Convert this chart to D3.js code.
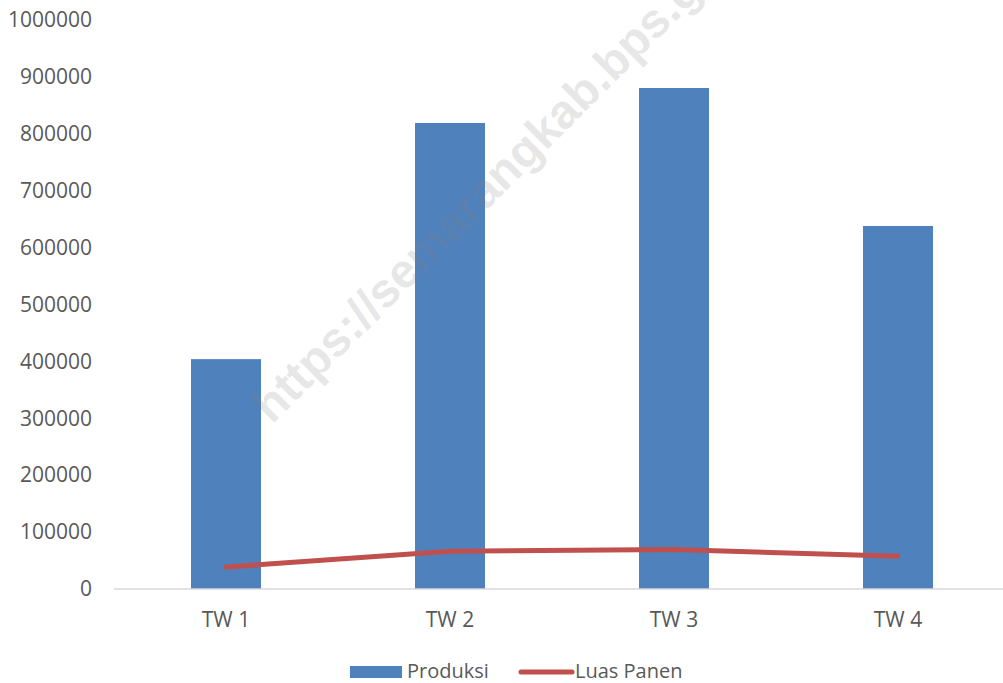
<!DOCTYPE html>
<html><head><meta charset="utf-8">
<script src="https://cdn.jsdelivr.net/npm/d3@7"></script>
<style>body{margin:0;background:#fff}svg{display:block}</style>
</head><body>
<script>
const categories = ["TW 1", "TW 2", "TW 3", "TW 4"];
const produksi = [404000, 819000, 880500, 638000];
const luasPanen = [38500, 66500, 69500, 57500];
const yTicks = [0,100000,200000,300000,400000,500000,600000,700000,800000,900000,1000000];

const W = 1003, H = 683;
const svg = d3.select("body").append("svg").attr("width", W).attr("height", H);
const font = "'Open Sans', sans-serif";

const x = d3.scaleBand().domain(categories).range([114, 1010]).paddingInner(0.6875).paddingOuter(0.34375);
const y = d3.scaleLinear().domain([0, 1000000]).range([589, 20]);

// y axis labels
const yAxis = d3.axisLeft(y).tickValues(yTicks).tickSize(0).tickPadding(0).tickFormat(d3.format("d"));
const gy = svg.append("g").attr("transform", "translate(92,0)").call(yAxis);
gy.select(".domain").remove();
gy.selectAll("text").attr("font-family", font).attr("font-size", 21).attr("fill", "#595959");

// bars
svg.append("g").selectAll("rect").data(categories).join("rect")
  .attr("x", d => x(d)).attr("width", x.bandwidth())
  .attr("y", (d,i) => y(produksi[i])).attr("height", (d,i) => y(0) - y(produksi[i]))
  .attr("fill", "#4f81bd");

// x axis
const xAxis = d3.axisBottom(x).tickSize(0).tickPadding(23);
const gx = svg.append("g").attr("transform", `translate(0,${y(0)})`).call(xAxis);
gx.select(".domain").remove();
gx.selectAll("text").attr("font-family", font).attr("font-size", 21).attr("fill", "#595959");
svg.append("line").attr("x1", 114).attr("x2", 1003).attr("y1", y(0)).attr("y2", y(0))
  .attr("stroke", "#d9d9d9").attr("stroke-width", 1.5);

// line
const line = d3.line().x((d,i) => x(categories[i]) + x.bandwidth()/2).y(d => y(d));
svg.append("path").datum(luasPanen).attr("d", line)
  .attr("fill", "none").attr("stroke", "#c0504d").attr("stroke-width", 5)
  .attr("stroke-linecap", "round").attr("stroke-linejoin", "round");

// legend
const lg = svg.append("g");
lg.append("rect").attr("x", 350).attr("y", 666).attr("width", 52).attr("height", 12).attr("fill", "#4f81bd");
lg.append("text").attr("x", 407).attr("y", 678).text("Produksi")
  .attr("font-family", font).attr("font-size", 20).attr("fill", "#595959");
lg.append("line").attr("x1", 521).attr("x2", 572).attr("y1", 672).attr("y2", 672)
  .attr("stroke", "#c0504d").attr("stroke-width", 5).attr("stroke-linecap", "round");
lg.append("text").attr("x", 575).attr("y", 678).text("Luas Panen")
  .attr("font-family", font).attr("font-size", 20).attr("fill", "#595959");

// watermark
svg.append("text").attr("transform", "translate(272,425) rotate(-45)")
  .text("https://semarangkab.bps.go.id")
  .attr("font-family", "'Liberation Sans', Arial, sans-serif").attr("font-weight", "bold")
  .attr("font-size", 48).attr("fill", "#808080").attr("fill-opacity", 0.2);
</script>
</body></html>
